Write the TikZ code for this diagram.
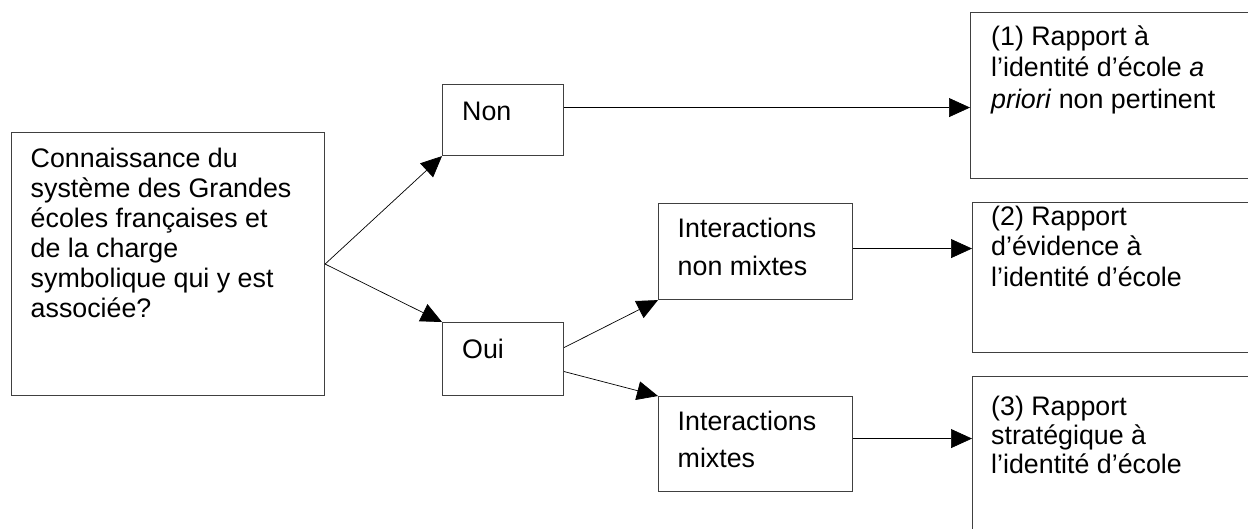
\documentclass[tikz,border=0pt]{standalone}
\usepackage{fontspec}
\setmainfont{Liberation Sans}
\usetikzlibrary{arrows.meta}
\begin{document}
\begin{tikzpicture}[x=1pt,y=-1pt,
  box/.style={draw=black!75, line width=1.1pt, inner sep=0pt, anchor=north west},
  txt/.style={anchor=north west, inner sep=0pt, align=left},
  conn/.style={line width=0.7pt, -{Triangle[length=21pt,width=19pt]}}]
\useasboundingbox (0,0) rectangle (1248,528);
\clip (0,0) rectangle (1248,528);
% boxes
\node[box, minimum width=313pt, minimum height=263pt] (A) at (11,132) {};
\node[box, minimum width=121pt, minimum height=71pt] (Non) at (442,84) {};
\node[box, minimum width=121pt, minimum height=73pt] (Oui) at (442,322) {};
\node[box, minimum width=194pt, minimum height=96pt] (INM) at (658,203) {};
\node[box, minimum width=194pt, minimum height=95pt] (IM) at (658,396) {};
\node[box, minimum width=300pt, minimum height=166pt] (R1) at (970,12) {};
\node[box, minimum width=300pt, minimum height=150pt] (R2) at (972,202) {};
\node[box, minimum width=300pt, minimum height=170pt] (R3) at (972,376) {};
% texts
\node[txt, font=\fontsize{26.8}{30}\selectfont] (tA) at (30.5,147) {\rule{0pt}{20pt}Connaissance du\\système des Grandes\\écoles françaises et\\de la charge\\symbolique qui y est\\associée?};
\node[txt, font=\fontsize{26.8}{30}\selectfont] (tNon) at (462,100) {\rule{0pt}{20pt}Non};
\node[txt, font=\fontsize{26.8}{30}\selectfont] (tOui) at (462,338) {\rule{0pt}{20pt}Oui};
\node[txt, font=\fontsize{26.8}{38}\selectfont] (tINM) at (677.5,217) {\rule{0pt}{20pt}Interactions\\non mixtes};
\node[txt, font=\fontsize{26.8}{37}\selectfont] (tIM) at (677.5,410) {\rule{0pt}{20pt}Interactions\\mixtes};
\node[txt, font=\fontsize{26.8}{31.5}\selectfont] (tR1) at (991,25) {\rule{0pt}{20pt}(1) Rapport à\\l’identité d’école \textit{a}\\\textit{priori} non pertinent};
\node[txt, font=\fontsize{26.8}{30.5}\selectfont] (tR2) at (991,205) {\rule{0pt}{20pt}(2) Rapport\\d’évidence à\\l’identité d’école};
\node[txt, font=\fontsize{26.8}{29}\selectfont] (tR3) at (991,395) {\rule{0pt}{20pt}(3) Rapport\\stratégique à\\l’identité d’école};
% connectors
\draw[conn] (A.east) -- (Non.south west);
\draw[conn] (A.east) -- (Oui.north west);
\coordinate (n1) at ([yshift=12.5pt]Non.east);
\draw[conn] (n1) -- (n1 -| R1.west);
\coordinate (o1) at ([yshift=11.5pt]Oui.east);
\coordinate (o2) at ([yshift=-12.5pt]Oui.east);
\draw[conn] (o1) -- (INM.south west);
\draw[conn] (o2) -- (IM.north west);
\coordinate (i1) at ([yshift=3pt]INM.east);
\draw[conn] (i1) -- (i1 -| R2.west);
\coordinate (i2) at ([yshift=5.5pt]IM.east);
\draw[conn] (i2) -- (i2 -| R3.west);
\end{tikzpicture}
\end{document}
